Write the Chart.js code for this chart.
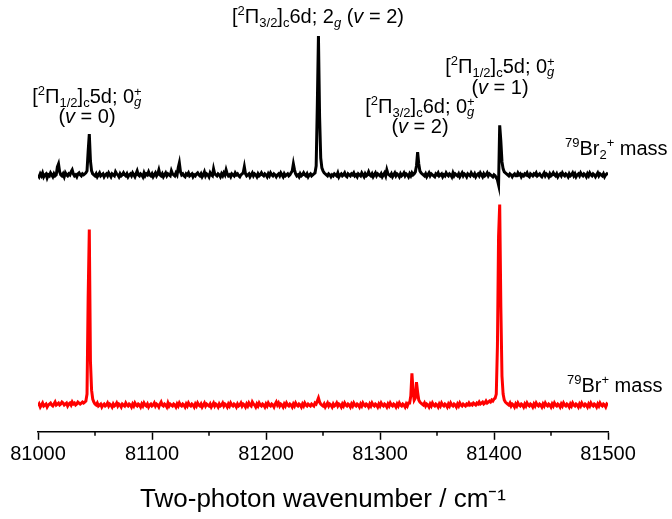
<!DOCTYPE html>
<html>
<head>
<meta charset="utf-8">
<script src="https://cdn.jsdelivr.net/npm/chart.js@4/dist/chart.umd.min.js"></script>
<style>
  html, body { margin: 0; padding: 0; background: #fff; }
  #wrap { width: 672px; height: 519px; }
</style>
</head>
<body>
<div id="wrap"><canvas id="spec"></canvas></div>
<script>
// ==================== DATA ====================
// wavenumber grid (cm-1), one sample per cm-1
const X_START = 81000;
const X_STEP = 1;
const X_TICKS = [81000, 81100, 81200, 81300, 81400, 81500];

// 79Br2+ mass channel, signal above its own baseline
const br2Signal = [
  1,-1,2,0,3,-1,1,2,-2,1,0,3,1,-1,2,0,1,9,12,4,
  1,0,2,-1,3,1,0,2,1,4,6,2,0,1,-1,2,3,1,0,2,
  1,2,3,5,25,42,15,5,2,1,0,2,-1,1,3,0,1,2,-1,1,
  2,0,3,1,-1,2,1,0,4,2,1,-1,2,0,1,3,1,0,2,-1,
  1,2,0,3,1,-1,2,5,1,0,2,1,-1,3,0,2,1,4,1,0,
  2,-1,1,3,0,2,6,1,0,2,-1,1,3,0,2,1,0,5,2,1,
  0,3,1,8,13,4,1,2,0,-1,2,1,3,0,1,2,-1,1,0,2,
  3,1,0,2,-1,1,4,0,2,1,-1,3,1,0,7,2,1,0,2,1,
  -1,2,0,3,1,6,2,0,1,-1,2,1,0,3,1,2,0,-1,1,2,
  3,9,2,0,1,2,-1,1,3,0,2,1,-1,2,0,1,3,1,0,2,
  1,-1,2,0,3,1,0,2,1,-1,1,2,0,3,1,-1,2,0,1,2,
  0,1,3,5,12,6,2,0,1,-1,2,0,1,3,1,0,2,-1,1,2,
  0,1,2,3,10,70,141,60,18,8,5,3,2,1,0,2,1,-1,1,0,
  2,1,0,3,-1,1,2,0,1,3,0,-1,2,1,0,2,1,3,0,1,
  -1,2,1,0,3,1,-1,2,0,1,4,1,0,2,-1,1,3,0,2,1,
  0,2,-1,1,3,0,6,2,1,0,2,-1,1,3,0,2,1,-1,2,0,
  1,3,0,2,1,-1,2,0,3,1,2,4,10,24,12,5,3,2,1,0,
  2,-1,1,3,0,2,1,0,-1,2,1,3,0,1,2,-1,1,0,3,1,
  0,2,1,-1,3,0,2,1,0,2,-1,1,3,0,2,1,-1,2,1,0,
  3,1,0,2,-1,1,2,0,3,1,-1,2,0,1,3,0,2,1,0,-1,
  1,0,-2,-4,-9,51,35,14,7,4,3,2,1,0,2,1,-1,1,2,0,
  0,3,1,2,-1,1,0,2,1,3,0,-1,2,1,0,2,1,3,0,1,
  2,0,-1,1,3,0,2,1,-1,2,0,1,3,1,0,2,-1,1,2,0,
  3,1,0,2,1,-1,2,0,1,3,0,2,-1,1,2,0,3,1,0,2,
  1,-1,2,0,3,1,0,2,1,-1,1,3,0,2,1,0,2,-1,1,2,
  1
];

// 79Br+ mass channel
const brSignal = [
  0,2,-1,1,3,0,1,2,-1,1,2,3,1,0,2,4,1,2,3,1,
  2,4,3,1,2,3,0,2,3,1,4,2,3,1,2,4,3,2,3,4,
  3,4,5,12,110,178,45,16,7,4,2,1,3,0,1,2,-1,1,2,0,
  1,3,0,2,1,-1,2,0,1,3,0,2,1,-1,2,1,0,3,1,0,
  2,1,-1,2,0,3,1,0,2,1,-1,2,0,3,1,0,2,-1,1,2,
  0,1,3,0,2,1,-1,2,4,1,0,2,1,-1,3,0,2,1,0,2,
  1,-1,2,0,3,1,0,2,1,-1,2,0,3,1,0,2,1,-1,2,0,
  3,1,0,2,-1,1,3,0,2,1,0,2,-1,1,3,0,2,1,-1,2,
  0,1,3,0,2,1,-1,2,0,3,1,0,2,1,-1,2,0,1,3,0,
  2,1,-1,2,0,3,1,0,4,2,1,-1,2,0,3,1,0,2,1,-1,
  2,0,3,1,0,2,1,-1,2,4,1,3,0,2,1,-1,2,0,3,1,
  0,2,1,-1,2,0,3,1,0,2,1,-1,2,0,3,1,0,2,1,0,
  2,1,0,3,2,5,8,4,2,1,0,2,-1,1,3,0,2,1,-1,2,
  0,1,3,0,2,1,-1,2,0,3,1,0,2,1,-1,2,0,3,1,0,
  2,1,-1,2,0,3,1,0,2,1,-1,2,0,3,1,0,2,1,-1,2,
  0,3,1,0,2,1,-1,2,0,3,1,0,2,1,-1,2,0,3,1,0,
  2,1,-1,2,0,3,3,10,33,15,6,8,24,14,6,4,3,2,1,3,
  0,2,1,-1,2,0,3,1,0,2,1,-1,2,0,3,1,0,2,1,-1,
  2,0,3,1,0,2,1,-1,2,0,3,1,0,2,1,0,2,1,3,1,
  2,1,3,2,1,3,2,4,2,3,4,2,3,5,3,4,5,4,6,5,
  7,8,12,60,171,203,100,30,12,6,4,3,2,1,3,0,2,1,-1,2,
  0,3,1,0,2,1,-1,2,0,3,1,0,2,1,-1,2,0,3,1,0,
  2,1,-1,2,0,3,1,0,2,1,-1,2,0,3,1,0,2,1,-1,2,
  0,3,1,0,2,1,-1,2,0,3,1,0,2,1,-1,2,0,3,1,0,
  2,1,-1,2,0,3,1,0,2,1,-1,2,0,3,1,0,2,1,-1,2,
  1
];

// vertical offset of the Br2+ trace above the Br+ trace
const BR2_OFFSET = 232;

// ==================== LABELS ====================
// runs: [text, kind, italic]  kind: n | sup | sub | stack (sup + sub at same x)
const PEAK_LABELS = [
  { x: 87, y: 103, runs: [['[','n'],['2','sup'],['Π','n'],['1/2','sub'],[']','n'],['c','sub'],['5d; 0','n'],['+|g','stack']] },
  { x: 87, y: 123, runs: [['(','n'],['v','n',true],[' = 0)','n']] },
  { x: 318, y: 23, runs: [['[','n'],['2','sup'],['Π','n'],['3/2','sub'],[']','n'],['c','sub'],['6d; 2','n'],['g','sub',true],[' (','n'],['v','n',true],[' = 2)','n']] },
  { x: 500, y: 73, runs: [['[','n'],['2','sup'],['Π','n'],['1/2','sub'],[']','n'],['c','sub'],['5d; 0','n'],['+|g','stack']] },
  { x: 500, y: 94, runs: [['(','n'],['v','n',true],[' = 1)','n']] },
  { x: 420, y: 113, runs: [['[','n'],['2','sup'],['Π','n'],['3/2','sub'],[']','n'],['c','sub'],['6d; 0','n'],['+|g','stack']] },
  { x: 420, y: 133, runs: [['(','n'],['v','n',true],[' = 2)','n']] }
];

const MASS_LABELS = [
  { x: 565, y: 155, runs: [['79','sup'],['Br','n'],['2','sub'],['+','sup'],[' mass','n']] },
  { x: 567, y: 392, runs: [['79','sup'],['Br','n'],['+','sup'],[' mass','n']] }
];

const FONT = '"Liberation Sans", Arial, sans-serif';

// ==================== HELPERS ====================
function toPoints(values, offset) {
  return values.map((v, i) => ({ x: X_START + i * X_STEP, y: v + offset }));
}

function fontFor(size, italic) {
  return (italic ? 'italic ' : '') + size + 'px ' + FONT;
}

function runWidth(ctx, run, size) {
  const [text, kind, italic] = run;
  if (kind === 'n') {
    ctx.font = fontFor(size, italic);
    return ctx.measureText(text).width;
  }
  const small = size * 0.65;
  if (kind === 'stack') {
    const [top, bottom] = text.split('|');
    ctx.font = fontFor(small, false);
    const w1 = ctx.measureText(top).width;
    ctx.font = fontFor(small, true);
    const w2 = ctx.measureText(bottom).width;
    return Math.max(w1, w2);
  }
  ctx.font = fontFor(small, italic);
  return ctx.measureText(text).width;
}

function drawRich(ctx, label, size, align) {
  const total = label.runs.reduce((s, r) => s + runWidth(ctx, r, size), 0);
  let x = align === 'center' ? label.x - total / 2 : label.x;
  const y = label.y;
  const small = size * 0.65;
  ctx.textBaseline = 'alphabetic';
  ctx.textAlign = 'left';
  label.runs.forEach(run => {
    const [text, kind, italic] = run;
    const w = runWidth(ctx, run, size);
    if (kind === 'n') {
      ctx.font = fontFor(size, italic);
      ctx.fillText(text, x, y);
    } else if (kind === 'sup') {
      ctx.font = fontFor(small, italic);
      ctx.fillText(text, x, y - size * 0.38);
    } else if (kind === 'sub') {
      ctx.font = fontFor(small, italic);
      ctx.fillText(text, x, y + size * 0.18);
    } else {
      const [top, bottom] = text.split('|');
      ctx.font = fontFor(small, false);
      ctx.fillText(top, x, y - size * 0.36);
      ctx.font = fontFor(small, true);
      ctx.fillText(bottom, x, y + size * 0.16);
    }
    x += w;
  });
}

// minor ticks at the half-hundreds plus all the text labels
const decorPlugin = {
  id: 'decor',
  afterDraw(chart) {
    const ctx = chart.ctx;
    const xs = chart.scales.x;
    const yAxis = chart.chartArea.bottom;
    ctx.save();
    ctx.strokeStyle = '#000';
    ctx.lineWidth = 1.5;
    xs.ticks.forEach(t => {
      if (t.value % 100 !== 0) {
        const px = xs.getPixelForValue(t.value);
        ctx.beginPath();
        ctx.moveTo(px, yAxis);
        ctx.lineTo(px, yAxis + 4);
        ctx.stroke();
      }
    });
    ctx.fillStyle = '#000';
    PEAK_LABELS.forEach(l => drawRich(ctx, l, 20, 'center'));
    MASS_LABELS.forEach(l => drawRich(ctx, l, 20, 'left'));
    ctx.restore();
  }
};

// ==================== CHART ====================
const ctx = document.getElementById('spec').getContext('2d');
new Chart(ctx, {
  type: 'line',
  data: {
    datasets: [
      {
        label: '79Br2+',
        data: toPoints(br2Signal, BR2_OFFSET),
        borderColor: '#000000',
        borderWidth: 3,
        pointRadius: 0,
        tension: 0
      },
      {
        label: '79Br+',
        data: toPoints(brSignal, 0),
        borderColor: '#ff0000',
        borderWidth: 3,
        pointRadius: 0,
        tension: 0
      }
    ]
  },
  options: {
    responsive: true,
    maintainAspectRatio: false,
    animation: false,
    layout: { padding: { left: 38, right: 64, top: 30, bottom: 4 } },
    plugins: {
      legend: { display: false },
      tooltip: { enabled: false }
    },
    scales: {
      x: {
        type: 'linear',
        min: 81000,
        max: 81500,
        border: { display: true, color: '#000', width: 1.5 },
        grid: {
          drawOnChartArea: false,
          drawTicks: true,
          tickLength: 8,
          tickWidth: 1.5,
          tickColor: c => (c.tick && c.tick.value % 100 === 0) ? '#000' : 'rgba(0,0,0,0)'
        },
        ticks: {
          stepSize: 50,
          autoSkip: false,
          maxRotation: 0,
          padding: 3,
          color: '#000',
          font: { family: FONT, size: 20 },
          callback: v => X_TICKS.includes(v) ? String(v) : ''
        },
        title: {
          display: true,
          text: 'Two-photon wavenumber / cm⁻¹',
          color: '#000',
          font: { family: FONT, size: 26 },
          padding: { top: 14, bottom: 0 }
        }
      },
      y: {
        display: false,
        min: -26,
        max: 379
      }
    }
  },
  plugins: [decorPlugin]
});
</script>
</body>
</html>
